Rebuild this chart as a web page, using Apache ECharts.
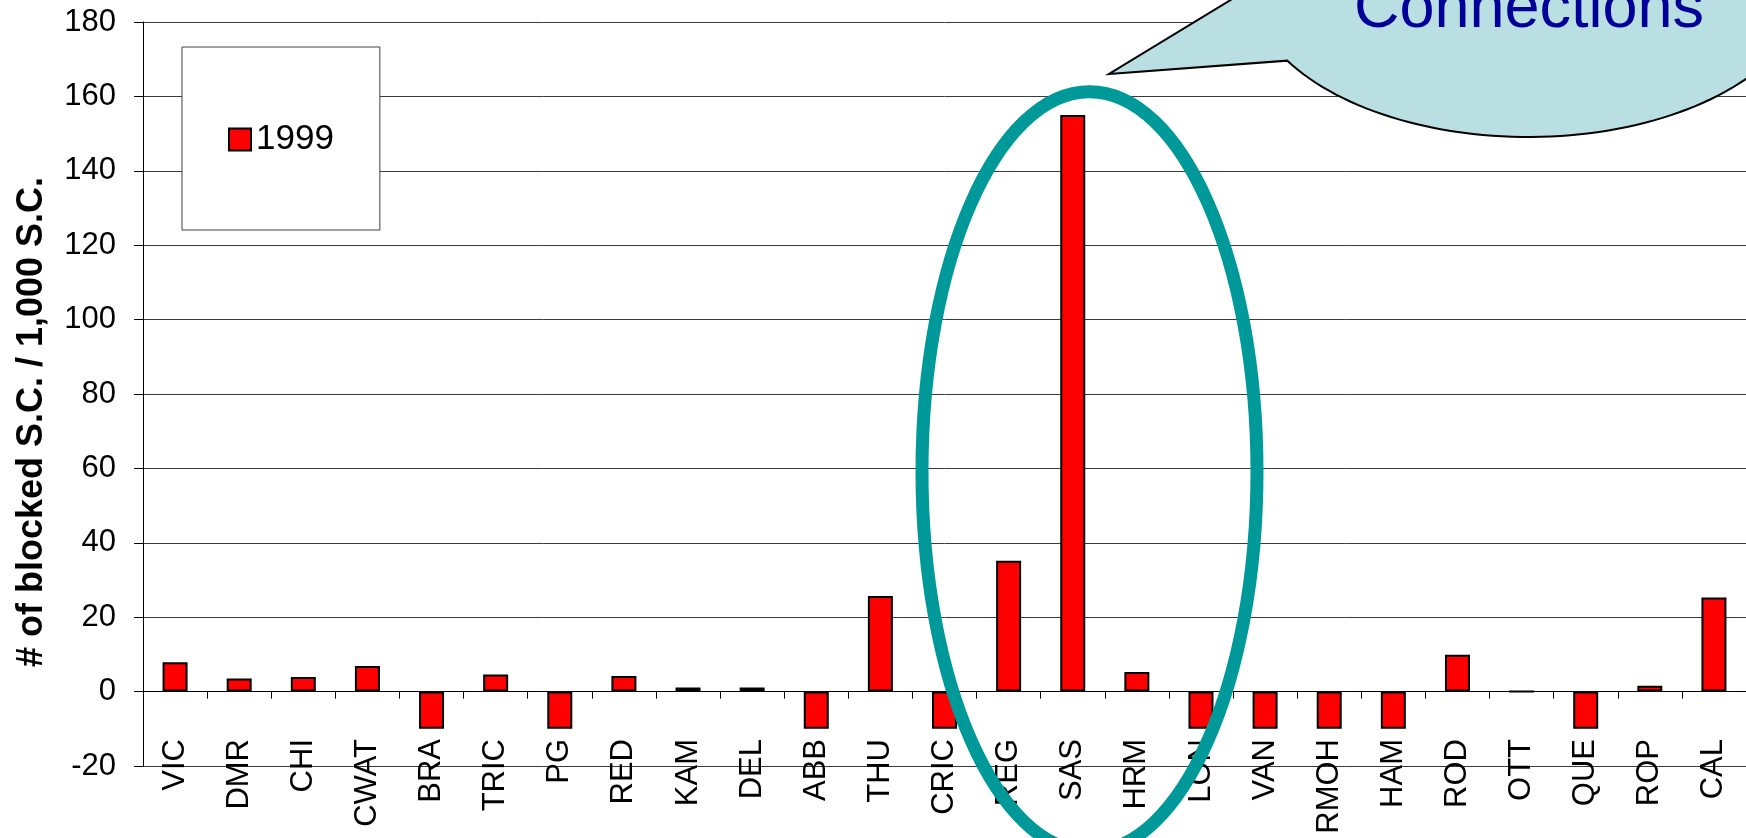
<!DOCTYPE html>
<html>
<head>
<meta charset="utf-8">
<title>Blocked S.C. per 1,000 S.C. — 1999</title>
<script src="https://cdn.jsdelivr.net/npm/echarts@6/dist/echarts.min.js"></script>
<style>
  html, body { margin: 0; padding: 0; background: #fff; }
  #chart { width: 1746px; height: 838px; }
</style>
</head>
<body>
<div id="chart"></div>
<script>
// Sites along the category axis
const categories = ['VIC', 'DMR', 'CHI', 'CWAT', 'BRA', 'TRIC', 'PG', 'RED', 'KAM', 'DEL',
  'ABB', 'THU', 'CRIC', 'REG', 'SAS', 'HRM', 'LON', 'VAN', 'RMOH', 'HAM',
  'ROD', 'OTT', 'QUE', 'ROP', 'CAL'];

// # of blocked S.C. per 1,000 S.C., 1999
const blocked1999 = [7.9, 3.5, 3.9, 6.9, -10, 4.6, -10, 4.2, 1.1, 1.1,
  -10, 25.7, -10, 35.2, 155, 5.3, -10, -10, -10, -10,
  9.9, 0, -10, 1.6, 25.3];

// Value axis range and step
const yMin = -20;
const yMax = 180;
const yStep = 20;

const seriesName = '1999';
const yTitle = '# of blocked S.C. / 1,000 S.C.';
const calloutText = 'Connections';

const FONT = "'Liberation Sans', Arial, sans-serif";

const chart = echarts.init(document.getElementById('chart'), null, { renderer: 'canvas' });

// Speech-balloon outline: elliptical body plus a pointed tail
function balloonPoints(tip, body, fromDeg, toDeg) {
  const pts = [tip];
  const step = fromDeg > toDeg ? -2 : 2;
  for (let d = fromDeg; step < 0 ? d >= toDeg : d <= toDeg; d += step) {
    const t = d * Math.PI / 180;
    pts.push([body.cx + body.rx * Math.cos(t), body.cy + body.ry * Math.sin(t)]);
  }
  const t = toDeg * Math.PI / 180;
  pts.push([body.cx + body.rx * Math.cos(t), body.cy + body.ry * Math.sin(t)]);
  return pts;
}

const balloonBody = { cx: 1528, cy: -19, rx: 280, ry: 156 };

const option = {
  backgroundColor: '#ffffff',
  animation: false,
  textStyle: { fontFamily: FONT },
  grid: { left: 143, right: 0, top: 22, bottom: 72, containLabel: false, outerBoundsMode: 'none' },
  legend: {
    show: true,
    left: 182,
    top: 47,
    orient: 'vertical',
    padding: [75, 46, 73, 46],
    backgroundColor: '#ffffff',
    borderColor: '#404040',
    borderWidth: 1,
    itemWidth: 22,
    itemHeight: 22,
    icon: 'rect',
    itemStyle: { borderColor: '#000', borderWidth: 2 },
    textStyle: { fontSize: 35, color: '#000', fontFamily: FONT },
    data: [seriesName]
  },
  xAxis: {
    type: 'category',
    data: categories,
    boundaryGap: true,
    axisLine: { show: true, onZero: true, lineStyle: { color: '#000', width: 1 } },
    axisTick: { show: true, interval: 0, length: 7, lineStyle: { color: '#000', width: 1 } },
    axisLabel: {
      interval: 0,
      rotate: 90,
      margin: -27,
      fontSize: 31,
      color: '#000',
      fontFamily: FONT
    },
    splitLine: { show: false }
  },
  yAxis: {
    type: 'value',
    min: yMin,
    max: yMax,
    interval: yStep,
    name: yTitle,
    nameLocation: 'middle',
    nameGap: 93,
    nameRotate: 90,
    nameTextStyle: {
      fontSize: 36,
      fontWeight: 'bold',
      color: '#000',
      fontFamily: FONT,
      padding: [0, 56, 0, 0]
    },
    axisLine: { show: true, lineStyle: { color: '#000', width: 1 } },
    axisTick: { show: true, length: 9, lineStyle: { color: '#000', width: 1 } },
    axisLabel: { margin: 27, fontSize: 31, color: '#000', fontFamily: FONT },
    splitLine: { show: true, lineStyle: { color: '#3a3a3a', width: 1 } }
  },
  series: [{
    name: seriesName,
    type: 'bar',
    data: blocked1999,
    barWidth: 25,
    itemStyle: { color: '#ff0000', borderColor: '#000', borderWidth: 2 },
    emphasis: { disabled: true }
  }],
  graphic: [
    {
      // teal ring around REG / SAS / HRM
      type: 'ellipse',
      z: 100,
      silent: true,
      shape: { cx: 1089.5, cy: 471.7, rx: 167.5, ry: 380 },
      style: { fill: 'none', stroke: '#009999', lineWidth: 13 }
    },
    {
      // speech balloon
      type: 'polygon',
      z: 101,
      silent: true,
      shape: { points: balloonPoints([1109, 74], balloonBody, 149.3, -183) },
      style: { fill: '#b9dfe3', stroke: '#000', lineWidth: 2 }
    },
    {
      type: 'text',
      z: 102,
      silent: true,
      x: 1529,
      y: 10,
      style: {
        text: calloutText,
        fill: '#000099',
        font: '63px ' + FONT,
        textAlign: 'center',
        textVerticalAlign: 'middle'
      }
    }
  ]
};

chart.setOption(option);
</script>
</body>
</html>
